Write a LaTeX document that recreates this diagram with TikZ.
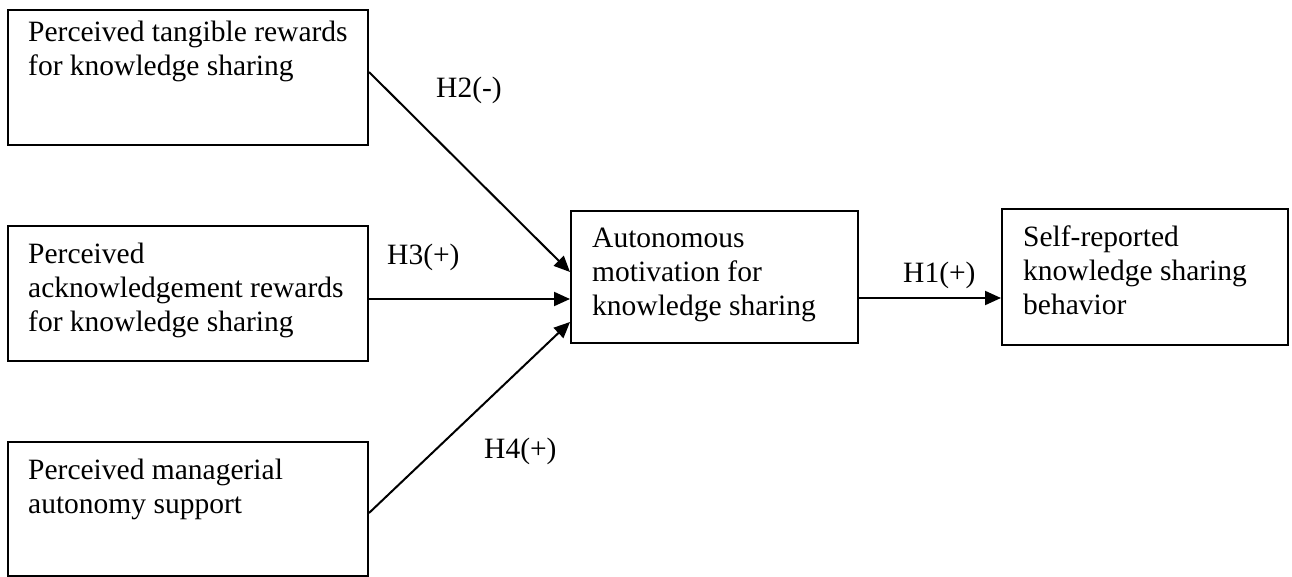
\documentclass[tikz,border=0pt]{standalone}
\usepackage{fontspec}
\setmainfont{Liberation Serif}
\usetikzlibrary{arrows.meta}
\begin{document}
\begin{tikzpicture}[x=1pt,y=-1pt,
  box/.style={draw=black, line width=2pt, rectangle, inner sep=0pt},
  txt/.style={anchor=base west, inner sep=0pt, align=left, font=\fontsize{29.5}{34}\selectfont},
  lbl/.style={anchor=base west, inner sep=0pt, font=\fontsize{29.5}{34}\selectfont},
  conn/.style={line width=2pt, -{Triangle[length=16pt,width=14pt]}}]
\useasboundingbox (0,0) rectangle (1292,577);
% boxes
\node[box, minimum width=360pt, minimum height=135pt] (b1) at (188,77.5) {};
\node[box, minimum width=360pt, minimum height=135pt] (b2) at (188,293.5) {};
\node[box, minimum width=360pt, minimum height=134pt] (b3) at (188,509) {};
\node[box, minimum width=287pt, minimum height=132pt] (c) at (714.5,277) {};
\node[box, minimum width=286pt, minimum height=136pt] (r) at (1145,277) {};
% texts (anchor at baseline of last line)
\node[txt] (t1) at (28,76) {Perceived tangible rewards\\for knowledge sharing};
\node[txt] (t2) at (28,331) {Perceived\\acknowledgement rewards\\for knowledge sharing};
\node[txt] (t3) at (28,513) {Perceived managerial\\autonomy support};
\node[txt] (tc) at (592,315) {Autonomous\\motivation for\\knowledge sharing};
\node[txt] (tr) at (1023,314) {Self-reported\\knowledge sharing\\behavior};
% connectors
\draw[conn] ([yshift=5.5pt]b1.east) -- ([yshift=5pt]c.west);
\draw[conn] ([yshift=-5.5pt]b2.east) -- ([yshift=-22pt]c.west);
\draw[conn] ([yshift=-4pt]b3.east) -- ([yshift=-45pt]c.west);
\draw[conn] ([yshift=-21pt]c.east) -- ([yshift=-21pt]r.west);
% labels
\node[lbl] (h2) at (436,98) {H2(-)};
\node[lbl] (h3) at (387,265) {H3(+)};
\node[lbl] (h4) at (484,458) {H4(+)};
\node[lbl] (h1) at (903,282) {H1(+)};
\end{tikzpicture}
\end{document}
